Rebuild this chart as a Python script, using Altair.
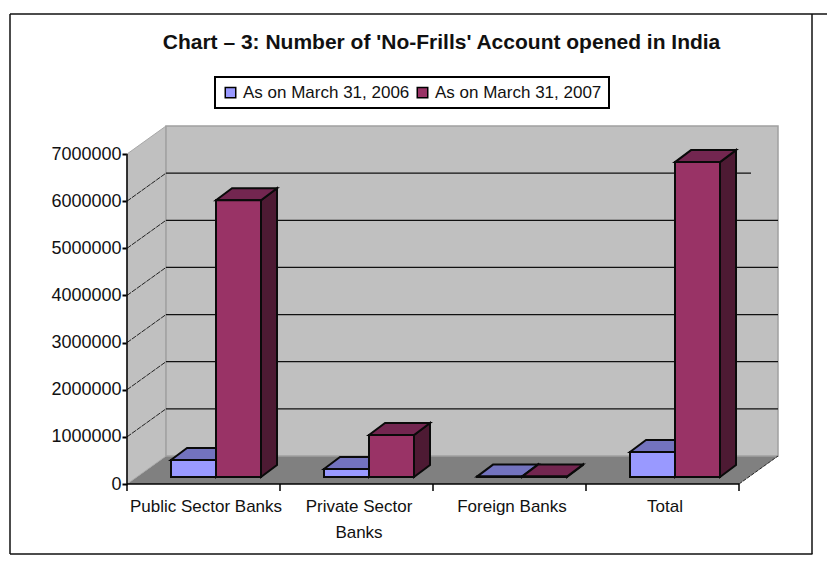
import json
import altair as alt
import pandas as pd

# ---- chart values ----
categories = ["Public Sector Banks", "Private Sector|Banks", "Foreign  Banks", "Total"]
series_names = ["As on March 31, 2006", "As on March 31, 2007"]
values_2006 = [360000, 170000, 8000, 530000]
values_2007 = [5870000, 890000, 8000, 6680000]
y_ticks = [0, 1000000, 2000000, 3000000, 4000000, 5000000, 6000000, 7000000]
title_text = "Chart \u2013 3: Number of 'No-Frills' Account opened in India"

# ---- page layout ----
W, H = 819, 547
PX_PER_CAT, PX_PER_VAL = 153.0, 47.14 / 1e6
X0_PX, Y0_PX = 119.0, 476.0
xs = alt.Scale(domain=[-X0_PX / PX_PER_CAT, (W - X0_PX) / PX_PER_CAT], range=[0, W], nice=False, zero=False)
ys = alt.Scale(domain=[(Y0_PX - H) / PX_PER_VAL, Y0_PX / PX_PER_VAL], range=[H, 0], nice=False, zero=False)

# 3-D projection, in data units
DX, DY = 39 / PX_PER_CAT, 28 / PX_PER_VAL
BDX, BDY = 16 / PX_PER_CAT, 12 / PX_PER_VAL
BASE_X, BASE_Y = 44 / PX_PER_CAT, 7 / PX_PER_VAL
BAR_W = 45 / PX_PER_CAT
YMAX = y_ticks[-1]
N = len(categories)

FONT = "Liberation Sans"

x_axis = alt.Axis(
    values=[i + 0.5 for i in range(N)],
    labelExpr="split(" + json.dumps(categories) + "[floor(datum.value)], '|')",
    orient="bottom", offset=Y0_PX - H, domain=False, ticks=False, grid=False,
    labelFont=FONT, labelFontSize=17, labelColor="#111111", labelPadding=22, labelBaseline="middle",
    labelLineHeight=26, labelOverlap=False, labelLimit=400, labelFlush=False, labelBound=False, labelOffset=2,
)
y_axis = alt.Axis(
    values=y_ticks, orient="left", offset=-X0_PX, domain=False, grid=False, format="d",
    tickSize=5, tickWidth=2, tickColor="black",
    labelFont=FONT, labelFontSize=18, labelColor="#111111", labelPadding=1, labelOverlap=False,
    labelLimit=200, labelBound=False, labelFlush=False,
)
X = alt.X("x:Q", scale=xs, axis=x_axis, title=None)
Y = alt.Y("y:Q", scale=ys, axis=y_axis, title=None)
X2 = alt.X2("x2:Q")
Y2 = alt.Y2("y2:Q")

# ---- walls and floor ----
left_wall = pd.DataFrame({"x": [0, DX], "y": [0, DY], "y2": [YMAX, YMAX + DY]})
back_wall = pd.DataFrame({"x": [DX], "x2": [N + DX], "y": [DY], "y2": [YMAX + DY]})
floor = pd.DataFrame({"y": [0, DY], "x": [0, DX], "x2": [N, N + DX]})
WALL = "#c0c0c0"
layers = [
    alt.Chart(floor).mark_area(orient="horizontal", color="#808080").encode(X, X2, Y),
    alt.Chart(left_wall).mark_area(color=WALL, stroke="#a8a8a8", strokeWidth=1).encode(X, Y, Y2),
    alt.Chart(back_wall).mark_rect(color=WALL, stroke="#a0a0a0", strokeWidth=1.5).encode(X, X2, Y, Y2),
]

# ---- gridlines: back wall and the slanted part on the side wall ----
grid_vals = y_ticks[1:-1]
back_grid = pd.DataFrame({
    "x": [DX] * len(grid_vals),
    "x2": [N + DX - (27 / PX_PER_CAT if v == 6000000 else 0) for v in grid_vals],
    "y": [v + DY for v in grid_vals],
})
side_grid = pd.DataFrame(
    [{"v": v, "x": 0, "y": v} for v in grid_vals] + [{"v": v, "x": DX, "y": v + DY} for v in grid_vals]
)
layers += [
    alt.Chart(back_grid).mark_rule(color="#111111", strokeWidth=1.2).encode(X, X2, Y),
    alt.Chart(side_grid).mark_line(color="#222222", strokeWidth=1, strokeDash=[5, 1]).encode(X, Y, detail="v:N"),
]

# ---- axis lines and ticks ----
y_axis_line = pd.DataFrame({"x": [0], "y": [0], "y2": [YMAX]})
x_axis_line = pd.DataFrame({"x": [0], "x2": [N], "y": [0]})
x_ticks = pd.DataFrame({"x": list(range(N + 1)), "y": [0] * (N + 1), "y2": [-7 / PX_PER_VAL] * (N + 1)})
edge = pd.DataFrame({"x": [N, N + DX], "y": [0, DY]})
layers += [
    alt.Chart(y_axis_line).mark_rule(color="black", strokeWidth=1.5).encode(X, Y, Y2),
    alt.Chart(x_axis_line).mark_rule(color="black", strokeWidth=1.5).encode(X, X2, Y),
    alt.Chart(x_ticks).mark_rule(color="black", strokeWidth=1.5).encode(X, Y, Y2),
    alt.Chart(edge).mark_line(color="#222222", strokeWidth=1, strokeDash=[4, 1]).encode(X, Y),
]

# ---- bars ----
fronts, tops, sides = [], [], []
for cat_i in range(N):
    for s_i, vals in enumerate([values_2006, values_2007]):
        v = vals[cat_i]
        xl = cat_i + BASE_X + s_i * BAR_W
        xr = xl + BAR_W
        b, t = BASE_Y, BASE_Y + v
        sname = series_names[s_i]
        fronts.append({"series": sname, "x": xl, "x2": xr, "y": b, "y2": t})
        tops += [
            {"series": sname, "id": f"{cat_i}-{s_i}", "x": xl, "x2": xr, "y": t},
            {"series": sname, "id": f"{cat_i}-{s_i}", "x": xl + BDX, "x2": xr + BDX, "y": t + BDY},
        ]
        sides += [
            {"series": sname, "id": f"{cat_i}-{s_i}", "x": xr, "y": b, "y2": t},
            {"series": sname, "id": f"{cat_i}-{s_i}", "x": xr + BDX, "y": b + BDY, "y2": t + BDY},
        ]
fronts, tops, sides = pd.DataFrame(fronts), pd.DataFrame(tops), pd.DataFrame(sides)

front_colors = ["#9999ff", "#993366"]
top_colors = ["#7373bf", "#732650"]
side_colors = ["#4d4d80", "#4d1a33"]
EDGE = dict(stroke="#0a0a0a", strokeWidth=2)

for name, tc, sc in zip(series_names, top_colors, side_colors):
    layers.append(
        alt.Chart(sides[sides.series == name]).mark_area(fill=sc, **EDGE).encode(X, Y, Y2, detail="id:N")
    )
    layers.append(
        alt.Chart(tops[tops.series == name]).mark_area(orient="horizontal", fill=tc, **EDGE).encode(X, X2, Y, detail="id:N")
    )

layers.append(
    alt.Chart(fronts).mark_rect(**EDGE).encode(
        X, X2, Y, Y2,
        alt.Color("series:N", scale=alt.Scale(domain=series_names, range=front_colors), legend=alt.Legend(
            orient="none", legendX=207, legendY=69, direction="horizontal", title=None,
            fillColor="white", strokeColor="black", padding=7,
            symbolType="square", symbolSize=110, symbolStrokeColor="black", symbolStrokeWidth=1.5,
            labelFont=FONT, labelFontSize=17, labelColor="#111111", labelLimit=300, columnPadding=4,
            symbolOpacity=1,
        )),
    )
)

# ---- outer frame ----
layers += [
    alt.Chart(pd.DataFrame({"k": [1]})).mark_rule(color="#111111", strokeWidth=1.5).encode(
        x=alt.value(2), x2=alt.value(W), y=alt.value(6)),
    alt.Chart(pd.DataFrame({"k": [1]})).mark_rule(color="#111111", strokeWidth=1.5).encode(
        x=alt.value(2), y=alt.value(6), y2=alt.value(H - 1)),
    alt.Chart(pd.DataFrame({"k": [1]})).mark_rule(color="#111111", strokeWidth=1.5).encode(
        x=alt.value(804), y=alt.value(6), y2=alt.value(H - 1)),
    alt.Chart(pd.DataFrame({"k": [1]})).mark_rule(color="#111111", strokeWidth=1.5).encode(
        x=alt.value(2), x2=alt.value(804.5), y=alt.value(H - 1)),
]

chart = (
    alt.layer(*layers)
    .properties(
        width=W, height=H, padding=0, autosize=alt.AutoSizeParams(type="none"),
        title=alt.TitleParams(title_text, anchor="middle", frame="group", dx=24, dy=45, offset=0,
                              font=FONT, fontSize=21, fontWeight="bold", color="#111111"),
        background="white",
    )
    .configure_view(strokeWidth=0)
    .configure_legend(strokeWidth=2)
)
chart.save("out.html", embed_options={"renderer": "svg", "actions": False})
